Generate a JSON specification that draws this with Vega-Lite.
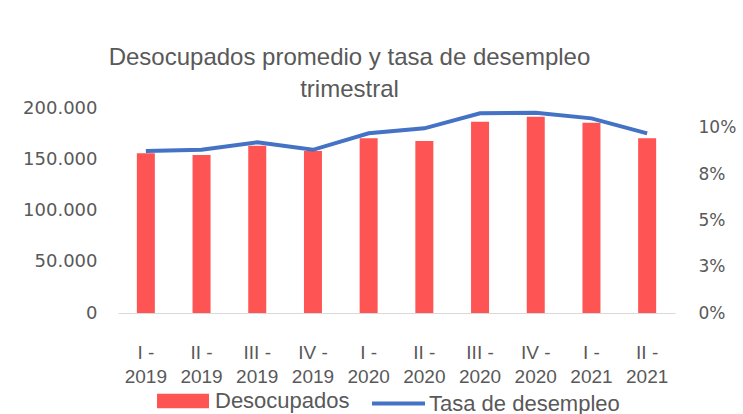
{
  "$schema": "https://vega.github.io/schema/vega-lite/v6.json",
  "width": 557,
  "height": 205,
  "autosize": {"type": "none"},
  "padding": {"left": 118, "top": 108, "right": 68, "bottom": 101},
  "background": "white",
  "title": {
    "text": ["Desocupados promedio y tasa de desempleo", "trimestral"],
    "anchor": "middle",
    "dx": -47,
    "dy": 15,
    "offset": 12,
    "font": "Liberation Sans",
    "fontSize": 24,
    "fontWeight": "normal",
    "color": "#595959",
    "lineHeight": 32
  },
  "config": {
    "view": {"stroke": null},
    "axis": {"grid": false, "ticks": false, "labelColor": "#595959"}
  },
  "data": {
    "values": [
      {"q": "I - 2019", "desocupados": 155800, "tasa": 0.0876},
      {"q": "II - 2019", "desocupados": 154200, "tasa": 0.0882},
      {"q": "III - 2019", "desocupados": 163200, "tasa": 0.0923},
      {"q": "IV - 2019", "desocupados": 158000, "tasa": 0.0882},
      {"q": "I - 2020", "desocupados": 170400, "tasa": 0.0971},
      {"q": "II - 2020", "desocupados": 167800, "tasa": 0.0998},
      {"q": "III - 2020", "desocupados": 186600, "tasa": 0.1079},
      {"q": "IV - 2020", "desocupados": 191500, "tasa": 0.1082},
      {"q": "I - 2021", "desocupados": 185700, "tasa": 0.1052},
      {"q": "II - 2021", "desocupados": 170400, "tasa": 0.0971}
    ]
  },
  "encoding": {
    "x": {
      "field": "q",
      "type": "nominal",
      "sort": null,
      "scale": {"paddingInner": 0, "paddingOuter": 0},
      "axis": {
        "title": null,
        "labelAngle": 0,
        "labelExpr": "[split(datum.value,' - ')[0] + ' -', split(datum.value,' - ')[1]]",
        "labelFont": "Liberation Sans",
        "labelFontSize": 19,
        "labelLineHeight": 24,
        "labelPadding": 39,
        "labelBaseline": "middle",
        "domainColor": "#D9D9D9",
        "domainWidth": 1
      }
    }
  },
  "layer": [
    {
      "mark": {"type": "bar", "width": 18},
      "encoding": {
        "y": {
          "field": "desocupados",
          "type": "quantitative",
          "scale": {"domain": [0, 200000], "nice": false},
          "axis": {
            "title": null,
            "domain": false,
            "values": [0, 50000, 100000, 150000, 200000],
            "labelExpr": "replace(format(datum.value, ','), /,/g, '.')",
            "labelFont": "DejaVu Sans",
            "labelFontSize": 18,
            "labelPadding": 21
          }
        },
        "fill": {
          "datum": "Desocupados",
          "scale": {"range": ["#FF5454"]},
          "legend": {
            "orient": "none",
            "legendX": 39,
            "legendY": 267,
            "title": null,
            "padding": 0,
            "symbolType": "M-1,-0.28H1V0.28H-1Z",
            "symbolSize": 2704,
            "symbolStrokeWidth": 0,
            "labelFont": "Liberation Sans",
            "labelFontSize": 22,
            "labelColor": "#595959",
            "labelOffset": 6,
            "labelLimit": 400
          }
        }
      }
    },
    {
      "mark": {"type": "line", "strokeWidth": 4},
      "encoding": {
        "y": {
          "field": "tasa",
          "type": "quantitative",
          "scale": {"domain": [0, 0.1108], "nice": false},
          "axis": {
            "title": null,
            "orient": "right",
            "domain": false,
            "values": [0, 0.025, 0.05, 0.075, 0.1],
            "labelExpr": "datum.value == 0 ? '0%' : datum.value < 0.03 ? '3%' : datum.value < 0.06 ? '5%' : datum.value < 0.08 ? '8%' : '10%'",
            "labelFont": "DejaVu Sans",
            "labelFontSize": 17,
            "labelPadding": 23
          }
        },
        "stroke": {
          "datum": "Tasa de desempleo",
          "scale": {"range": ["#4472C4"]},
          "legend": {
            "orient": "none",
            "legendX": 252,
            "legendY": 267,
            "title": null,
            "padding": 0,
            "symbolType": "stroke",
            "symbolSize": 2809,
            "symbolStrokeWidth": 4,
            "labelFont": "Liberation Sans",
            "labelFontSize": 22,
            "labelColor": "#595959",
            "labelOffset": 2,
            "labelLimit": 400
          }
        }
      }
    }
  ],
  "resolve": {"scale": {"y": "independent"}}
}
